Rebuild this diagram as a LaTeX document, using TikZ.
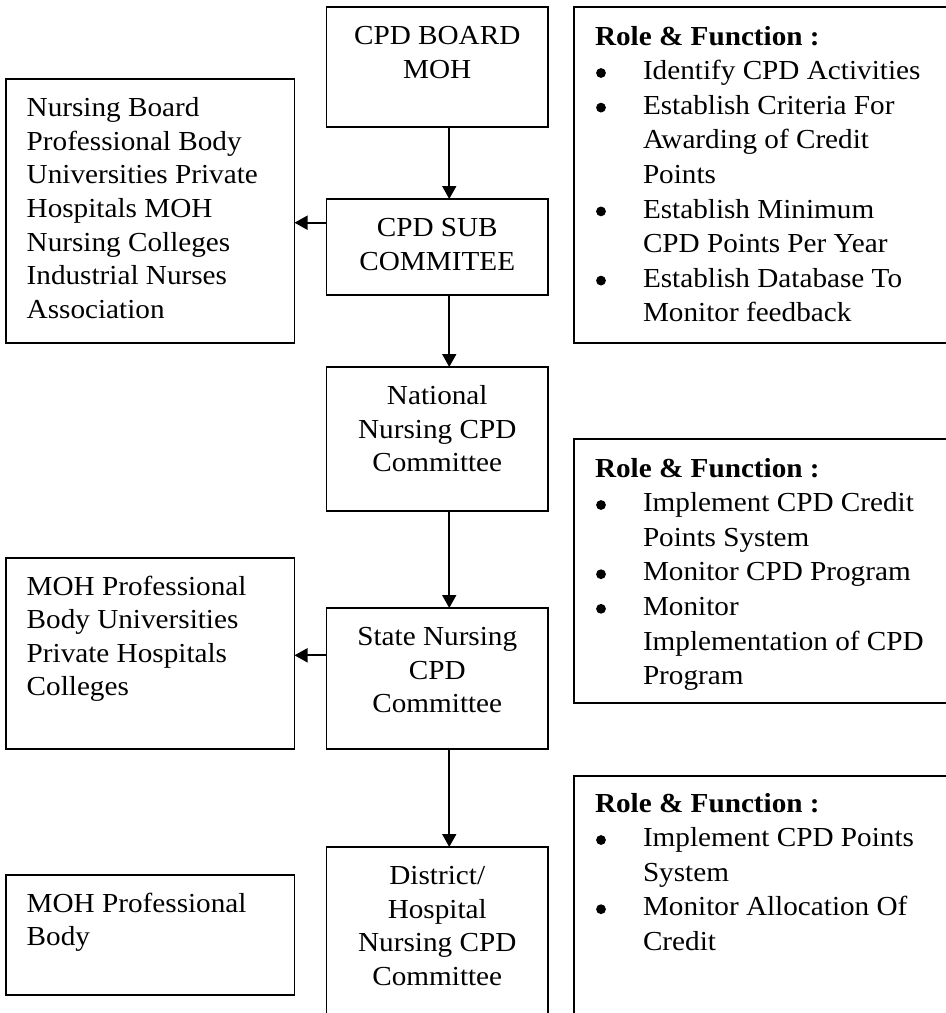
\documentclass[tikz,border=0pt]{standalone}
\usepackage{fontspec}
\setmainfont[FakeStretch=1.062]{Liberation Serif}
\usetikzlibrary{arrows.meta}
\newcommand\rfbul{\tikz[baseline=0pt]{\path (0,0) (12pt,0); \fill (6pt,6.6pt) circle (4.9pt);}}
\newcommand\rfitem[1]{\par\noindent\hangindent=48pt\hangafter=1\makebox[48pt][l]{\rfbul}#1}
\begin{document}
\begin{tikzpicture}[x=1pt,y=1pt,
  box/.style={draw, line width=1.7pt, rectangle, inner sep=0pt, outer sep=0pt, anchor=north west},
  txt/.style={inner sep=0pt, outer sep=0pt, font=\fontsize{27.5pt}{33.6pt}\selectfont},
  rtxt/.style={inner sep=0pt, outer sep=0pt, anchor=base west, font=\fontsize{27.5pt}{34.6pt}\selectfont},
  arr/.style={line width=1.7pt, -{Triangle[length=13pt,width=14pt]}}
]
\useasboundingbox (0,0) rectangle (946,-1013);
\clip (0,0) rectangle (946,-1013);

% centre column
\node[box, minimum width=221.5pt, minimum height=120pt] (board) at (326.5,-7) {};
\node[box, minimum width=221.5pt, minimum height=96pt] (sub) at (326.5,-199) {};
\node[box, minimum width=221.5pt, minimum height=144pt] (national) at (326.5,-367) {};
\node[box, minimum width=221.5pt, minimum height=141pt] (state) at (326.5,-608) {};
\node[box, minimum width=221.5pt, minimum height=220pt] (district) at (326.5,-847) {};

\node[txt, anchor=base] (boardT) at ([yshift=-37.7pt]board.north)
  {\parbox[t]{221pt}{\centering CPD BOARD\\MOH}};
\node[txt, anchor=base] (subT) at ([yshift=-37.7pt]sub.north)
  {\parbox[t]{221pt}{\centering CPD SUB\\COMMITEE}};
\node[txt, anchor=base] (nationalT) at ([yshift=-37.7pt]national.north)
  {\parbox[t]{221pt}{\centering National\\Nursing CPD\\Committee}};
\node[txt, anchor=base] (stateT) at ([yshift=-37.7pt]state.north)
  {\parbox[t]{221pt}{\centering State Nursing\\CPD\\Committee}};
\node[txt, anchor=base] (districtT) at ([yshift=-37.7pt]district.north)
  {\parbox[t]{221pt}{\centering District/\\Hospital\\Nursing CPD\\Committee}};

% left column
\node[box, minimum width=288.8pt, minimum height=264pt] (left1) at (5.7,-79) {};
\node[box, minimum width=288.8pt, minimum height=190.7pt] (left2) at (5.7,-558.3) {};
\node[box, minimum width=288.8pt, minimum height=120pt] (left3) at (5.7,-875) {};

\node[txt, anchor=base west] (left1T) at ([xshift=21pt,yshift=-37.7pt]left1.north west)
  {\parbox[t]{270pt}{Nursing Board\\Professional Body\\Universities Private\\Hospitals MOH\\Nursing Colleges\\Industrial Nurses\\Association}};
\node[txt, anchor=base west] (left2T) at ([xshift=21pt,yshift=-36.7pt]left2.north west)
  {\parbox[t]{270pt}{MOH Professional\\Body Universities\\Private Hospitals\\Colleges}};
\node[txt, anchor=base west] (left3T) at ([xshift=21pt,yshift=-37.3pt]left3.north west)
  {\parbox[t]{270pt}{MOH Professional\\Body}};

% right column
\node[box, minimum width=420pt, minimum height=335.4pt] (r1) at (574,-7.3) {};
\node[box, minimum width=420pt, minimum height=263.4pt] (r2) at (574,-439.3) {};
\node[box, minimum width=420pt, minimum height=300pt] (r3) at (574,-776) {};

\node[rtxt] (r1T) at ([xshift=21pt,yshift=-37.7pt]r1.north west)
  {\parbox[t]{400pt}{\parindent=0pt\textbf{Role \& Function :}
   \rfitem{Identify CPD Activities}
   \rfitem{Establish Criteria For\\Awarding of Credit\\Points}
   \rfitem{Establish Minimum\\CPD Points Per Year}
   \rfitem{Establish Database To\\Monitor feedback}}};
\node[rtxt] (r2T) at ([xshift=21pt,yshift=-37.7pt]r2.north west)
  {\parbox[t]{400pt}{\parindent=0pt\textbf{Role \& Function :}
   \rfitem{Implement CPD Credit\\Points System}
   \rfitem{Monitor CPD Program}
   \rfitem{Monitor\\Implementation of CPD\\Program}}};
\node[rtxt] (r3T) at ([xshift=21pt,yshift=-36pt]r3.north west)
  {\parbox[t]{400pt}{\parindent=0pt\textbf{Role \& Function :}
   \rfitem{Implement CPD Points\\System}
   \rfitem{Monitor Allocation Of\\Credit}}};

% connectors
\draw[arr] ([xshift=12pt]board.south) -- ([xshift=12pt]sub.north);
\draw[arr] ([xshift=12pt]sub.south) -- ([xshift=12pt]national.north);
\draw[arr] ([xshift=12pt]national.south) -- ([xshift=12pt]state.north);
\draw[arr] ([xshift=12pt]state.south) -- ([xshift=12pt]district.north);
\draw[arr] ([yshift=24.3pt]sub.west) -- ([yshift=24.3pt]sub.west -| left1.east);
\draw[arr] ([yshift=23.2pt]state.west) -- ([yshift=23.2pt]state.west -| left2.east);
\end{tikzpicture}
\end{document}
